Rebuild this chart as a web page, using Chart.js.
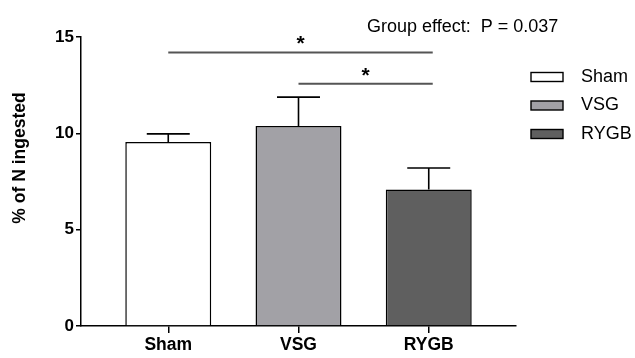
<!DOCTYPE html>
<html><head><meta charset="utf-8">
<script src="https://cdn.jsdelivr.net/npm/chart.js@4.4.1/dist/chart.umd.min.js"></script>
<style>html,body{margin:0;padding:0;background:#fff}#wrap{width:635px;height:358px}</style>
</head><body><div id="wrap"><canvas id="c"></canvas></div>
<script>
const categories = ["Sham", "VSG", "RYGB"];
const means = [9.55, 10.38, 7.08];
const errorsUp = [0.42, 1.5, 1.12];
const barColors = ["#ffffff", "#a2a1a6", "#5f5f5f"];
const yTicks = [0, 5, 10, 15];
const sigPairs = [[0, 2], [1, 2]];
const sigHeights = [14.2, 12.57];
const sigLabels = ["*", "*"];
const groupEffectText = "Group effect:  P = 0.037";
const yTitle = "% of N ingested";

const FONT = "'Liberation Sans', Arial, sans-serif";

const extras = {
  id: 'extras',
  afterDatasetsDraw(chart) {
    const ctx = chart.ctx, x = chart.scales.x, y = chart.scales.y;
    ctx.save();
    ctx.strokeStyle = '#000'; ctx.lineWidth = 1.6;
    means.forEach((m, i) => {
      const px = x.getPixelForValue(i);
      const py0 = y.getPixelForValue(m);
      const py1 = y.getPixelForValue(m + errorsUp[i]);
      const half = (x.getPixelForValue(1) - x.getPixelForValue(0)) * 0.165;
      ctx.beginPath();
      ctx.moveTo(px, py0); ctx.lineTo(px, py1);
      ctx.moveTo(px - half, py1); ctx.lineTo(px + half, py1);
      ctx.stroke();
    });
    ctx.strokeStyle = '#555'; ctx.lineWidth = 2;
    ctx.fillStyle = '#000';
    ctx.font = "bold 21px " + FONT;
    ctx.textAlign = 'center'; ctx.textBaseline = 'alphabetic';
    sigPairs.forEach((p, k) => {
      const a = x.getPixelForValue(p[0]), b = x.getPixelForValue(p[1]) + 4;
      const py = y.getPixelForValue(sigHeights[k]);
      ctx.beginPath(); ctx.moveTo(a, py); ctx.lineTo(b, py); ctx.stroke();
      ctx.fillText(sigLabels[k], (a + b) / 2, py - 2);
    });
    ctx.restore();
  },
  afterDraw(chart) {
    const ctx = chart.ctx;
    ctx.save();
    ctx.fillStyle = '#000';
    ctx.font = "18px " + FONT;
    ctx.textAlign = 'left'; ctx.textBaseline = 'alphabetic';
    ctx.fillText(groupEffectText, 367, 31.5);
    ctx.textBaseline = 'middle';
    categories.forEach((c, i) => {
      const cy = 77 + i * 28.5;
      ctx.fillStyle = barColors[i];
      ctx.fillRect(531, cy - 4.5, 32, 9);
      ctx.strokeStyle = '#000'; ctx.lineWidth = 1.4;
      ctx.strokeRect(531, cy - 4.5, 32, 9);
      ctx.fillStyle = '#000';
      ctx.font = "18px " + FONT;
      ctx.fillText(c, 581, cy);
    });
    ctx.translate(20, 158);
    ctx.rotate(-Math.PI / 2);
    ctx.font = "bold 17.5px " + FONT;
    ctx.textAlign = 'center'; ctx.textBaseline = 'middle';
    ctx.fillText(yTitle, 0, 0);
    ctx.restore();
  }
};

new Chart(document.getElementById('c'), {
  type: 'bar',
  data: {
    datasets: [{
      data: categories.map((c, i) => ({ x: i, y: means[i] })),
      backgroundColor: barColors,
      borderColor: '#000',
      borderWidth: 1.5,
      borderSkipped: 'bottom',
      barPercentage: 0.66,
      categoryPercentage: 1
    }]
  },
  options: {
    responsive: true, maintainAspectRatio: false, animation: false,
    devicePixelRatio: 1,
    layout: { padding: { top: 37, right: 119, left: 0, bottom: 0 } },
    plugins: { legend: { display: false }, tooltip: { enabled: false } },
    scales: {
      x: {
        type: 'linear', min: -0.67, max: 2.67, offset: false,
        afterBuildTicks: s => { s.ticks = categories.map((c, i) => ({ value: i })); },
        afterFit: s => { s.height = 32; },
        ticks: { callback: v => categories[v], color: '#000', font: { family: FONT, size: 17.5, weight: 'bold' }, padding: 2, maxRotation: 0, autoSkip: false },
        grid: { offset: false, drawOnChartArea: false, drawTicks: true, tickLength: 7, color: '#000', lineWidth: 1.5 },
        border: { display: true, color: '#000', width: 1.5 }
      },
      y: {
        min: 0, max: 15,
        afterBuildTicks: s => { s.ticks = yTicks.map(v => ({ value: v })); },
        afterFit: s => { s.width = 81; },
        ticks: { color: '#000', font: { family: FONT, size: 17, weight: 'bold' }, padding: 2 },
        grid: { drawOnChartArea: false, drawTicks: true, tickLength: 5, color: '#000', lineWidth: 1.5 },
        border: { display: true, color: '#000', width: 1.5 }
      }
    }
  },
  plugins: [extras]
});
</script></body></html>
